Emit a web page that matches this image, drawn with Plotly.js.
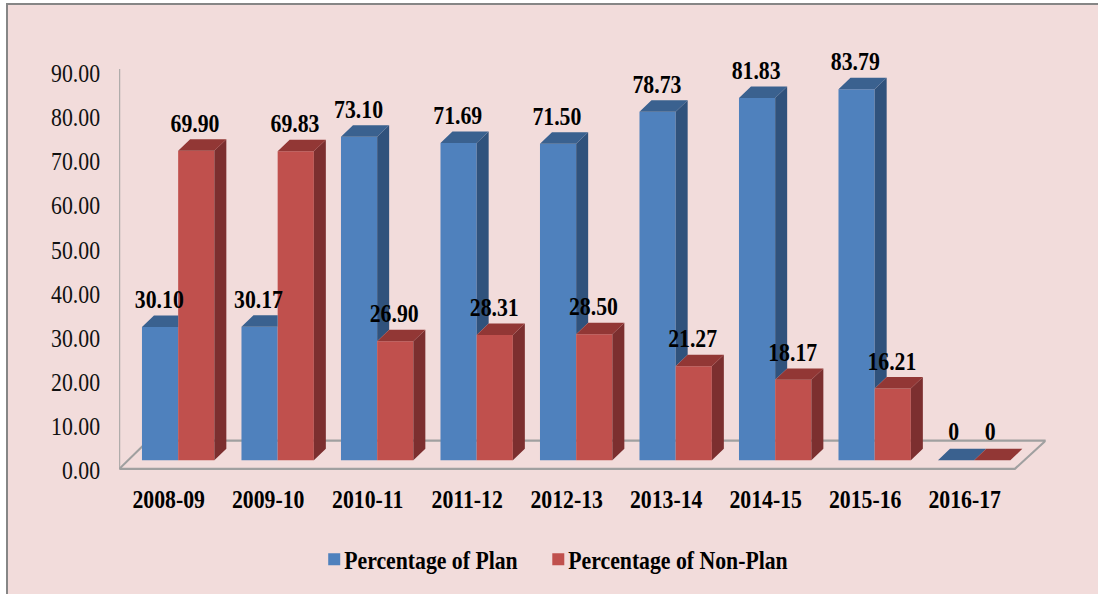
<!DOCTYPE html>
<html>
<head>
<meta charset="utf-8">
<script src="https://cdn.plot.ly/plotly-3.0.1.min.js"></script>
<style>
html,body{margin:0;padding:0;background:#fff;overflow:hidden;width:1098px;height:594px;}
#panel{position:absolute;left:6px;top:3px;width:1092px;height:591px;box-sizing:border-box;background:#f2dcdb;border-left:2px solid #868686;border-top:2px solid #868686;}
#chart{position:absolute;left:0;top:0;transform-origin:0 0;}
</style>
</head>
<body>
<div id="panel"></div>
<div id="chart"></div>
<script>
const categories = ["2008-09","2009-10","2010-11","2011-12","2012-13","2013-14","2014-15","2015-16","2016-17"];
const planValues = [30.10,30.17,73.10,71.69,71.50,78.73,81.83,83.79,0];
const nonPlanValues = [69.90,69.83,26.90,28.31,28.50,21.27,18.17,16.21,0];
const planLabels = ["30.10","30.17","73.10","71.69","71.50","78.73","81.83","83.79","0"];
const nonPlanLabels = ["69.90","69.83","26.90","28.31","28.50","21.27","18.17","16.21","0"];
const yTickValues = [0,10,20,30,40,50,60,70,80,90];

// frame geometry (pixels); the reference's type is narrow, so the chart is laid out wider and squeezed by SX
const SX=0.87;
const W=1098,H=594,L=119,R=1046,T=60,B=470.5,floorFront=469.5,floorBack=441;
const groupPx=99.55, centre0=178, zeroPx=460.8, barPx=4.433, tickPx=4.41;
const barW=36.2/groupPx, depthX=12/groupPx, depthY=11.5/barPx;
const xOf=p=>(p-centre0)/groupPx;
const yOf=p=>(B-p)/tickPx;

function topFace(v,x0,x1,clip){
  const a=clip?[x0,x1,x1]:[x0,x1,x1+depthX];
  const b=[v,v,v+depthY];
  a.push(x0+depthX,x0,null);b.push(v+depthY,v,null);
  return [a,b];
}
const f={bs:[[],[]],bt:[[],[]],rs:[[],[]],rt:[[],[]]};
categories.forEach((c,i)=>{
  const b=planValues[i], r=nonPlanValues[i];
  const add=(o,p)=>{o[0].push(...p[0]);o[1].push(...p[1]);};
  add(f.bt,topFace(b,i-barW,i,b<r));
  if(b>r) add(f.bs,[[i,i,i+depthX,i+depthX,i,null],[r,b,b+depthY,r+depthY,r,null]]);
  add(f.rt,topFace(r,i,i+barW,false));
  if(r>0) add(f.rs,[[i+barW,i+barW,i+barW+depthX,i+barW+depthX,i+barW,null],[0,r,r+depthY,depthY,0,null]]);
});
const face=(o,color)=>({type:"scatter",mode:"lines",x:o[0],y:o[1],xaxis:"x",yaxis:"y2",fill:"toself",fillcolor:color,
  line:{width:0,color:color},hoverinfo:"skip",showlegend:false});

const idx=categories.map((c,i)=>i);
const traces=[
 {type:"scatter",mode:"lines",x:[L,1015,R,148,L,null,L,L].map(p=>p===null?null:xOf(p)),
  y:[yOf(floorFront),yOf(floorFront),yOf(floorBack),yOf(floorBack),yOf(floorFront),null,yOf(floorFront),yOf(69)],
  xaxis:"x",yaxis:"y",line:{color:"#a0a0a0",width:2.3},hoverinfo:"skip",showlegend:false},
 {type:"bar",name:"Percentage of Plan",x:idx,y:planValues,xaxis:"x",yaxis:"y2",marker:{color:"#4f81bd"}},
 {type:"bar",name:"Percentage of Non-Plan",x:idx,y:nonPlanValues,xaxis:"x",yaxis:"y2",marker:{color:"#c0504d"}},
 face(f.bs,"#30527c"),face(f.bt,"#3a618f"),face(f.rs,"#7c2f2f"),face(f.rt,"#923735")
];

const mk=(v,t,xc)=>v.map((y,i)=>({x:i+xc,y:y,text:t[i],xref:"x",yref:"y2",showarrow:false,xanchor:"center",yanchor:"middle",
  xshift:(y===0?-2:-1)/SX,yshift:y===0?29:27.5,font:{family:"Liberation Serif",size:25,color:"#000",weight:700}}));
const annotations=mk(planValues,planLabels,-barW/2).concat(mk(nonPlanValues,nonPlanLabels,barW/2));

const layout={
 width:W/SX,height:H,margin:{l:L/SX,r:(W-R)/SX,t:T,b:H-B,pad:0,autoexpand:false},
 paper_bgcolor:"rgba(0,0,0,0)",plot_bgcolor:"rgba(0,0,0,0)",
 barmode:"group",bargap:1-2*barW,bargroupgap:0,hovermode:false,
 xaxis:{range:[xOf(L),xOf(R)],tickmode:"array",tickvals:idx.map(i=>i-0.095),ticktext:categories,showgrid:false,zeroline:false,showline:false,
   ticks:"",ticklabelstandoff:12,tickangle:0,tickfont:{family:"Liberation Serif",size:25,color:"#000",weight:700}},
 yaxis:{range:[0,(B-T)/tickPx],tickmode:"array",tickvals:yTickValues,ticktext:yTickValues.map(v=>v.toFixed(2)),showgrid:false,zeroline:false,showline:false,
   ticks:"",ticklabelstandoff:21,tickfont:{family:"Liberation Serif",size:25,color:"#111"}},
 yaxis2:{overlaying:"y",range:[-(B-zeroPx)/barPx,(zeroPx-T)/barPx],visible:false,showgrid:false,zeroline:false},
 showlegend:true,
 legend:{orientation:"h",x:(298-L)/(R-L),xanchor:"left",y:(B-560)/(B-T),yanchor:"middle",bgcolor:"rgba(0,0,0,0)",traceorder:"normal",
   itemwidth:43,
   font:{family:"Liberation Serif",size:25,color:"#000",weight:700}},
 annotations:annotations
};
document.getElementById("chart").style.transform="scaleX("+SX+")";
Plotly.newPlot("chart",traces,layout,{displayModeBar:false,staticPlot:true}).then(()=>{
  document.querySelectorAll("#chart .legend .traces .layers").forEach(n=>n.setAttribute("transform","translate(11.05,0) scale(1.149,1)"));
});
</script>
</body>
</html>
